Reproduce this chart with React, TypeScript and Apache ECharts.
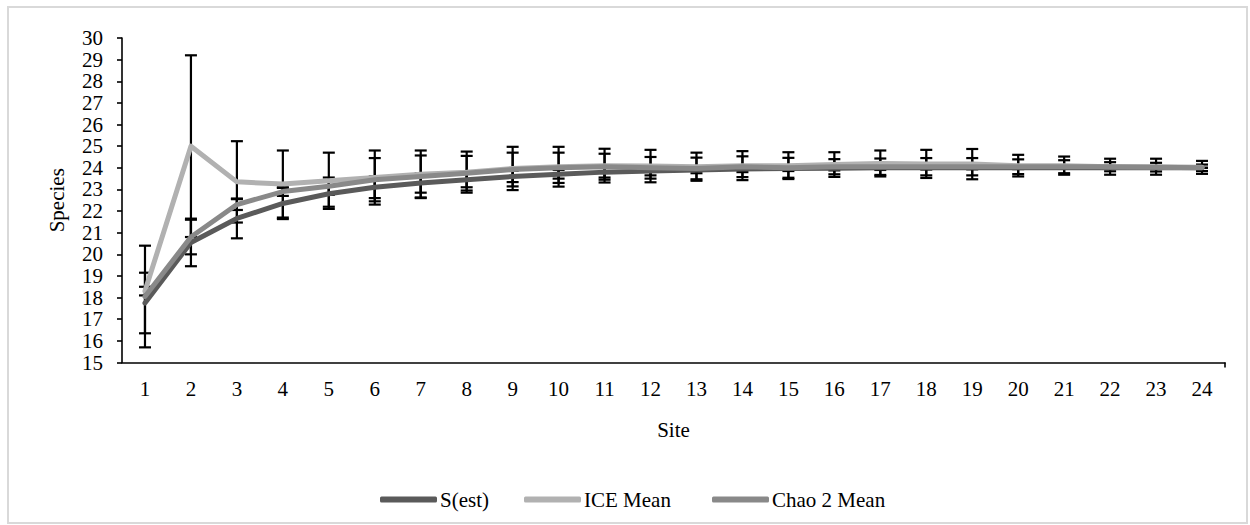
import React, { useEffect, useRef } from "react";
import * as echarts from "echarts";

// Species accumulation across sampling sites
const sites = ["1", "2", "3", "4", "5", "6", "7", "8", "9", "10", "11", "12", "13", "14", "15", "16", "17", "18", "19", "20", "21", "22", "23", "24"];

const sEst = [17.75, 20.55, 21.66, 22.35, 22.8, 23.1, 23.3, 23.45, 23.6, 23.7, 23.8, 23.85, 23.9, 23.95, 23.97, 23.98, 24.0, 24.0, 24.0, 24.0, 24.0, 24.0, 24.0, 24.0];
const sEstSD = [1.4, 1.1, 0.92, 0.72, 0.6, 0.5, 0.45, 0.35, 0.26, 0.2, 0.25, 0.2, 0.15, 0.15, 0.12, 0.1, 0.1, 0.08, 0.07, 0.06, 0.05, 0.04, 0.03, 0.0];

const iceMean = [18.3, 25.0, 23.35, 23.25, 23.4, 23.55, 23.7, 23.8, 23.97, 24.05, 24.1, 24.08, 24.05, 24.1, 24.1, 24.15, 24.2, 24.18, 24.17, 24.1, 24.1, 24.05, 24.05, 24.02];
const iceSD = [0.2, 4.2, 1.88, 1.55, 1.3, 1.25, 1.1, 0.95, 1.0, 0.92, 0.78, 0.75, 0.65, 0.67, 0.62, 0.57, 0.6, 0.65, 0.7, 0.5, 0.42, 0.37, 0.37, 0.3];

const chao2Mean = [18.05, 20.8, 22.3, 22.9, 23.15, 23.45, 23.6, 23.75, 23.92, 24.0, 24.05, 24.0, 23.97, 24.05, 24.0, 24.05, 24.05, 24.05, 24.05, 24.05, 24.05, 24.05, 24.03, 24.0];
const chao2SD = [2.35, 0.8, 0.25, 0.2, 0.4, 1.0, 0.97, 0.8, 0.78, 0.7, 0.6, 0.5, 0.5, 0.48, 0.46, 0.35, 0.38, 0.4, 0.4, 0.34, 0.3, 0.21, 0.2, 0.15];

const FONT = "'Liberation Serif', 'Times New Roman', serif";
const FONT_SIZE = 21;

const COLOR_S = "#5a5a5a";
const COLOR_ICE = "#b1b1b1";
const COLOR_CHAO = "#898989";

function toBars(mean: number[], sd: number[]) {
  return mean.map((m, i) => [i, m - sd[i], m + sd[i]]);
}

function errorBarRender(params: any, api: any) {
  const idx = api.value(0);
  const lo = api.coord([idx, api.value(1)]);
  const hi = api.coord([idx, api.value(2)]);
  const hw = 6;
  const style = { stroke: "#000", lineWidth: 2.2, fill: "none" };
  return {
    type: "group",
    children: [
      { type: "line", shape: { x1: hi[0], y1: hi[1], x2: lo[0], y2: lo[1] }, style },
      { type: "line", shape: { x1: hi[0] - hw, y1: hi[1], x2: hi[0] + hw, y2: hi[1] }, style },
      { type: "line", shape: { x1: lo[0] - hw, y1: lo[1], x2: lo[0] + hw, y2: lo[1] }, style },
    ],
  };
}

function lineSeries(name: string, data: number[], color: string) {
  return {
    name,
    type: "line",
    data,
    symbol: "none",
    showSymbol: false,
    z: 5,
    itemStyle: { color },
    lineStyle: { color, width: 5, cap: "round", join: "round" },
  };
}

function barSeries(name: string, mean: number[], sd: number[]) {
  return {
    name,
    type: "custom",
    renderItem: errorBarRender,
    data: toBars(mean, sd),
    encode: { x: 0, y: [1, 2] },
    z: 2,
    silent: true,
  };
}

function legendAt(name: string, left: number) {
  return {
    data: [name],
    left,
    top: 484,
    icon: "roundRect",
    itemWidth: 57,
    itemHeight: 6,
    selectedMode: false,
    textStyle: { fontFamily: FONT, fontSize: FONT_SIZE, color: "#000", padding: [0, 0, 0, -2] },
  };
}

export default function App() {
  const ref = useRef<HTMLDivElement>(null);

  useEffect(() => {
    if (!ref.current) return;
    const chart = echarts.init(ref.current, null, { renderer: "svg" });
    const gridLeft = 122;
    const gridRight = 25;
    const gridTop = 38;
    const gridBottom = 162.5;

    chart.setOption({
      animation: false,
      backgroundColor: "#fff",
      textStyle: { fontFamily: FONT },
      grid: { left: gridLeft, right: gridRight, top: gridTop, bottom: gridBottom, containLabel: false },
      legend: [
        legendAt("S(est)", 375),
        legendAt("ICE Mean", 519),
        legendAt("Chao 2 Mean", 707),
      ],
      xAxis: {
        type: "category",
        data: sites,
        boundaryGap: true,
        name: "Site",
        nameLocation: "middle",
        nameGap: 57,
        nameTextStyle: { fontFamily: FONT, fontSize: FONT_SIZE, color: "#000" },
        axisLine: { lineStyle: { color: "#000", width: 1.6 } },
        axisTick: { alignWithLabel: true, length: 5, lineStyle: { color: "#000", width: 1.6 } },
        axisLabel: { fontFamily: FONT, fontSize: FONT_SIZE, color: "#000", margin: 16 },
        splitLine: { show: false },
      },
      yAxis: {
        type: "value",
        min: 15,
        max: 30,
        interval: 1,
        name: "Species",
        nameLocation: "middle",
        nameGap: 55,
        nameRotate: 90,
        nameTextStyle: { fontFamily: FONT, fontSize: FONT_SIZE, color: "#000" },
        axisLine: { show: true, lineStyle: { color: "#000", width: 1.6 } },
        axisTick: { show: true, length: 5, lineStyle: { color: "#000", width: 1.6 } },
        axisLabel: { fontFamily: FONT, fontSize: FONT_SIZE, color: "#000", margin: 19 },
        splitLine: { show: false },
      },
      graphic: [
        {
          type: "rect",
          shape: { x: 8, y: 7, width: 1239, height: 516 },
          style: { fill: "none", stroke: "#d9d9d9", lineWidth: 2 },
          silent: true,
        },
        {
          type: "line",
          shape: { x1: 1250 - gridRight, y1: 525 - gridBottom, x2: 1250 - gridRight, y2: 525 - gridBottom + 5 },
          style: { stroke: "#000", lineWidth: 1.6 },
          silent: true,
        },
      ],
      series: [
        barSeries("S(est) SD", sEst, sEstSD),
        barSeries("ICE SD", iceMean, iceSD),
        barSeries("Chao 2 SD", chao2Mean, chao2SD),
        lineSeries("S(est)", sEst, COLOR_S),
        lineSeries("ICE Mean", iceMean, COLOR_ICE),
        lineSeries("Chao 2 Mean", chao2Mean, COLOR_CHAO),
      ],
    });

    return () => chart.dispose();
  }, []);

  return (
    <div
      ref={ref}
      style={{ position: "absolute", left: 0, top: 0, width: 1250, height: 525 }}
    />
  );
}
